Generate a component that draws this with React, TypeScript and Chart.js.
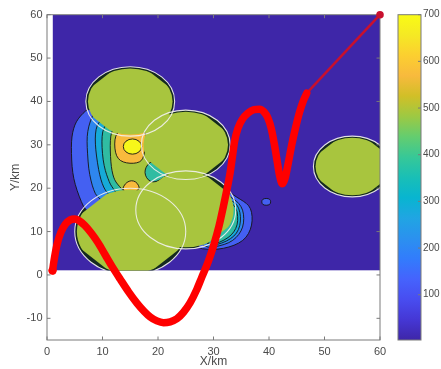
import { useEffect, useRef } from 'react';
import { Chart, registerables } from 'chart.js';

Chart.register(...registerables);

// ---------- axes ----------
const xTickValues = [0, 10, 20, 30, 40, 50, 60];
const yTickValues = [-10, 0, 10, 20, 30, 40, 50, 60];
const xLimits = [0, 60];
const yLimits = [-15, 60];
const colorbarTicks = [100, 200, 300, 400, 500, 600, 700];
const colorbarLimits = [3, 700];

// ---------- field domain ----------
const domainX = [1, 60];
const domainY = [1, 60];

// ---------- threat discs (centre x, centre y, radius, km) ----------
const discX = [15, 25, 15, 25, 55];
const discY = [40, 30, 10, 15, 25];
const discR = [8, 8, 10, 9, 7];

// ---------- flight path ----------
const pathX = [1.0, 1.3, 1.8, 2.5, 3.3, 4.2, 5.0, 5.8, 6.8, 8.0, 9.2, 10.5, 11.8, 13.2, 14.7, 16.2, 17.5, 18.6, 19.8, 21.0, 22.2, 23.4, 24.6, 25.8, 26.9, 27.9, 29.0, 30.0, 31.0, 31.8, 32.5, 33.0, 33.4, 33.8, 34.4, 35.2, 36.2, 37.3, 38.3, 39.1, 39.8, 40.4, 41.0, 41.5, 41.9, 42.4, 42.9, 43.5, 44.1, 44.8, 45.5, 46.2, 46.8];
const pathY = [1.0, 3.6, 7.0, 9.8, 11.7, 12.7, 12.9, 12.5, 11.4, 9.6, 7.4, 4.6, 1.8, -1.0, -3.9, -6.5, -8.4, -9.7, -10.6, -11.0, -10.8, -10.1, -8.6, -6.4, -3.6, -0.5, 2.9, 6.7, 11.3, 15.9, 20.2, 23.6, 27.2, 30.8, 33.8, 35.9, 37.3, 38.1, 38.2, 37.6, 36.2, 33.8, 29.9, 26.0, 23.0, 21.0, 22.3, 26.0, 30.0, 34.0, 37.5, 40.2, 41.9];
const tailX = [46.8, 60];
const tailY = [41.9, 60];
const startX = [1];
const startY = [1];

// ---------- contour bands (km coordinates) ----------
type Pt = [number, number];
const westBand100: Pt[] = [[7.4, 38.3], [6.5, 37.3], [5.6, 36.0], [5.0, 34.6], [4.6, 32.8], [4.4, 30.8], [4.4, 28.0], [4.5, 25.0], [4.8, 22.2], [5.4, 19.5], [6.2, 16.8], [6.9, 15.0], [9, 13], [14, 13], [20, 17], [21.5, 23], [19.5, 27], [20, 34], [16, 36], [10, 38.5]];
const westBand200: Pt[] = [[8.6, 37.6], [7.8, 35.6], [7.3, 33.0], [7.2, 30.8], [7.3, 28.0], [7.5, 24.5], [7.9, 21.8], [8.4, 19.6], [9.0, 18.0], [12, 15], [20, 17], [21.5, 23], [19.5, 27], [20, 34], [16, 36], [11, 38]];
const westBand300: Pt[] = [[9.8, 35.8], [9.0, 34.6], [8.7, 32.5], [8.7, 30.2], [8.9, 27.5], [9.3, 24.2], [9.7, 22.0], [10.2, 20.2], [10.8, 19.0], [13, 16], [20, 17], [21.5, 23], [19.5, 27], [20, 34], [16, 36], [12, 37]];
const westBand400: Pt[] = [[11.0, 35.0], [10.2, 34.0], [9.9, 32.0], [9.9, 29.4], [10.1, 26.5], [10.5, 24.0], [11.0, 22.2], [11.4, 20.9], [12.0, 19.8], [14, 16], [20, 17], [21.5, 23], [19.5, 27], [20, 34], [16, 36]];
const westBand500: Pt[] = [[12.2, 34.0], [11.6, 33.0], [11.4, 31.0], [11.4, 28.6], [11.5, 26.0], [11.7, 24.0], [12.0, 22.5], [12.4, 21.4], [13.0, 20.5], [14, 19], [20, 17], [21.5, 23], [19.5, 27], [20, 34], [16, 36]];
const eastBand100: Pt[] = [[33.0, 19.0], [34.2, 17.9], [35.4, 17.0], [36.4, 16.0], [36.9, 14.5], [37.0, 12.5], [36.7, 10.5], [35.9, 8.6], [34.6, 7.3], [32.8, 6.4], [30.8, 5.9], [28.8, 5.9], [27.2, 6.2], [27, 9], [30, 16], [31, 20]];
const eastBand200: Pt[] = [[33.6, 17.6], [34.6, 16.5], [35.3, 15.0], [35.5, 13.0], [35.3, 11.0], [34.6, 9.3], [33.5, 7.9], [32.0, 7.0], [30.0, 6.4], [28.2, 6.4], [27, 9], [30, 16], [31.5, 19]];
const eastBand300: Pt[] = [[34.0, 16.6], [34.6, 15.3], [34.9, 13.5], [34.8, 11.4], [34.2, 9.6], [33.1, 8.3], [31.5, 7.3], [29.6, 6.7], [28, 8], [30, 16], [32, 18]];
const eastBand400: Pt[] = [[34.1, 15.6], [34.4, 13.5], [34.3, 11.5], [33.7, 9.9], [32.7, 8.6], [31.1, 7.5], [29.6, 7.0], [28, 8], [30, 15], [32.5, 17.5]];
const peak600: Pt[] = [[12.6, 32.8], [12.2, 31.2], [12.2, 29.2], [12.5, 27.4], [13.2, 26.3], [14.3, 25.8], [15.6, 25.7], [16.7, 26.0], [17.3, 26.8], [17.6, 28.5], [18.2, 31], [17.5, 33.5], [15, 33.6], [13.4, 33.4]];
const dome600: Pt[] = [[13.6, 19.5], [13.8, 20.5], [14.4, 21.4], [15.2, 21.8], [16.0, 21.5], [16.5, 20.7], [16.7, 19.7], [15, 18.6]];
const saddle400: Pt[] = [[17.8, 24.8], [17.6, 23.6], [17.9, 22.4], [18.6, 21.5], [19.6, 21.4], [21, 22.4], [22, 23.5], [21, 25], [19.5, 26.2], [18.5, 26.0]];
// ellipse blobs: centre x, centre y, half-width, half-height
const peak700 = [15.4, 29.6, 1.65, 1.75];
const spot100 = [39.5, 16.85, 0.8, 0.78];

// ---------- colours ----------
const parulaStops = ['#3e26a8', '#4537d5', '#484df0', '#4563fd', '#327cfc', '#2b91ef', '#20a5e3', '#08b5d0', '#19bfb6', '#37c897', '#64cd6f', '#9dc943', '#d1bf27', '#f8ba3d', '#fccf30', '#f5e924', '#f9fb15'];
const C_BG = '#3e26a8';
const C100 = '#4460f2';
const C200 = '#2e86ee';
const C300 = '#16aad8';
const C400 = '#30bca2';
const C500 = '#a8c53e';
const C600 = '#f8ba3d';
const C700 = '#f7f71a';
const C_RING = '#13291f';
const C_LINE = '#141414';
const C_AXIS = '#7a7a7a';
const C_TEXT = '#4a4a4a';

const FONT = "'Liberation Sans', Arial, Helvetica, sans-serif";

function tracePoly(ctx: CanvasRenderingContext2D, pts: Pt[], px: (v: number) => number, py: (v: number) => number, smooth: boolean) {
  const P = pts.map(([a, b]) => [px(a), py(b)]);
  const n = P.length;
  ctx.beginPath();
  if (!smooth) {
    P.forEach((p, i) => (i ? ctx.lineTo(p[0], p[1]) : ctx.moveTo(p[0], p[1])));
    ctx.closePath();
    return;
  }
  const mid = (a: number[], b: number[]) => [(a[0] + b[0]) / 2, (a[1] + b[1]) / 2];
  const m0 = mid(P[n - 1], P[0]);
  ctx.moveTo(m0[0], m0[1]);
  for (let i = 0; i < n; i++) {
    const p = P[i];
    const m = mid(p, P[(i + 1) % n]);
    ctx.quadraticCurveTo(p[0], p[1], m[0], m[1]);
  }
  ctx.closePath();
}

const mapPlugin = {
  id: 'contourMap',
  beforeDatasetsDraw(chart: any) {
    const { ctx, chartArea } = chart;
    const xs = chart.scales.x;
    const ys = chart.scales.y;
    const cb = chart.scales.cb;
    const px = (v: number) => xs.getPixelForValue(v);
    const py = (v: number) => ys.getPixelForValue(v);
    const sx = px(1) - px(0);
    const sy = py(0) - py(1);

    ctx.save();
    const l = px(domainX[0]);
    const r = px(domainX[1]);
    const t = py(domainY[1]);
    const b = py(domainY[0]);
    ctx.beginPath();
    ctx.rect(l, t, r - l, b - t);
    ctx.clip();
    ctx.fillStyle = C_BG;
    ctx.fillRect(l, t, r - l, b - t);

    // dark rim of every disc
    discX.forEach((cx, i) => {
      ctx.beginPath();
      ctx.ellipse(px(cx), py(discY[i]), discR[i] * sx, discR[i] * sy, 0, 0, Math.PI * 2);
      ctx.fillStyle = C_RING;
      ctx.fill();
    });

    const fillPoly = (pts: Pt[], color: string) => {
      tracePoly(ctx, pts, px, py, true);
      ctx.fillStyle = color;
      ctx.fill();
      ctx.lineWidth = 0.9;
      ctx.strokeStyle = C_LINE;
      ctx.stroke();
    };
    const fillEllipse = (e: number[], color: string) => {
      ctx.beginPath();
      ctx.ellipse(px(e[0]), py(e[1]), e[2] * sx, e[3] * sy, 0, 0, Math.PI * 2);
      ctx.fillStyle = color;
      ctx.fill();
      ctx.lineWidth = 0.9;
      ctx.strokeStyle = C_LINE;
      ctx.stroke();
    };

    fillPoly(westBand100, C100);
    fillPoly(westBand200, C200);
    fillPoly(westBand300, C300);
    fillPoly(westBand400, C400);
    fillPoly(westBand500, C500);
    fillPoly(eastBand100, C100);
    fillPoly(eastBand200, C200);
    fillPoly(eastBand300, C300);
    fillPoly(eastBand400, C400);
    fillPoly(peak600, C600);
    fillEllipse(peak700, C700);
    fillPoly(dome600, C600);
    fillPoly(saddle400, C400);

    // green plateau of each disc (octagonal cut inside the rim)
    discX.forEach((cx, i) => {
      const cy = discY[i];
      const rr = discR[i];
      ctx.save();
      ctx.beginPath();
      ctx.ellipse(px(cx), py(cy), (rr - 0.38) * sx, (rr - 0.38) * sy, 0, 0, Math.PI * 2);
      ctx.clip();
      const k = 0.29 * rr;
      const oct: Pt[] = [[rr, k], [k, rr], [-k, rr], [-rr, k], [-rr, -k], [-k, -rr], [k, -rr], [rr, -k]].map(
        ([a, c]) => [cx + a, cy + c] as Pt
      );
      tracePoly(ctx, oct, px, py, false);
      ctx.fillStyle = C500;
      ctx.fill();
      ctx.restore();
    });

    // white threat circles
    discX.forEach((cx, i) => {
      ctx.beginPath();
      ctx.ellipse(px(cx), py(discY[i]), discR[i] * sx, discR[i] * sy, 0, 0, Math.PI * 2);
      ctx.lineWidth = 1.1;
      ctx.strokeStyle = 'rgba(240,240,236,0.92)';
      ctx.stroke();
    });

    fillEllipse(spot100, C100);
    ctx.restore();

    // axes box with inward ticks
    ctx.save();
    ctx.strokeStyle = C_AXIS;
    ctx.lineWidth = 1;
    const { left, right, top, bottom } = chartArea;
    ctx.strokeRect(left, top, right - left, bottom - top);
    ctx.beginPath();
    xTickValues.forEach((v) => {
      const x = px(v);
      ctx.moveTo(x, bottom);
      ctx.lineTo(x, bottom - 3.5);
      ctx.moveTo(x, top);
      ctx.lineTo(x, top + 3.5);
    });
    yTickValues.forEach((v) => {
      const y = py(v);
      ctx.moveTo(left, y);
      ctx.lineTo(left + 3.5, y);
      ctx.moveTo(right, y);
      ctx.lineTo(right - 3.5, y);
    });
    ctx.stroke();

    // colour bar
    const cbL = right + 18;
    const cbW = 23;
    const cbT = cb.getPixelForValue(colorbarLimits[1]);
    const cbB = cb.getPixelForValue(colorbarLimits[0]);
    const g = ctx.createLinearGradient(0, cbB, 0, cbT);
    parulaStops.forEach((c, i) => g.addColorStop(i / (parulaStops.length - 1), c));
    ctx.fillStyle = g;
    ctx.fillRect(cbL, cbT, cbW, cbB - cbT);
    ctx.strokeRect(cbL, cbT, cbW, cbB - cbT);
    ctx.beginPath();
    colorbarTicks.forEach((v) => {
      const y = cb.getPixelForValue(v);
      ctx.moveTo(cbL + cbW, y);
      ctx.lineTo(cbL + cbW - 3, y);
    });
    ctx.stroke();
    ctx.restore();
  },
};

export default function App() {
  const ref = useRef<HTMLCanvasElement>(null);
  useEffect(() => {
    const tickFont = { family: FONT, size: 11 };
    const chart = new Chart(ref.current as HTMLCanvasElement, {
      type: 'scatter',
      data: {
        datasets: [
          {
            data: pathX.map((x, i) => ({ x, y: pathY[i] })),
            showLine: true,
            borderColor: '#ff0000',
            borderWidth: 7.5,
            pointRadius: 0,
            cubicInterpolationMode: 'monotone',
            borderCapStyle: 'round',
            borderJoinStyle: 'round',
            clip: false,
            xAxisID: 'x',
            yAxisID: 'y',
          } as any,
          {
            data: tailX.map((x, i) => ({ x, y: tailY[i] })),
            showLine: true,
            borderColor: '#c8102e',
            backgroundColor: '#c8102e',
            borderWidth: 2.5,
            pointRadius: [0, 3.8],
            pointBorderWidth: 0,
            clip: false,
            xAxisID: 'x',
            yAxisID: 'y',
          } as any,
          {
            data: startX.map((x, i) => ({ x, y: startY[i] })),
            showLine: false,
            backgroundColor: '#ff0000',
            pointRadius: 4.2,
            pointBorderWidth: 0,
            clip: false,
            xAxisID: 'x',
            yAxisID: 'y',
          } as any,
        ],
      },
      options: {
        animation: false,
        responsive: false,
        devicePixelRatio: 1,
        layout: { padding: { top: 14.7, left: 0, right: 0, bottom: 0 } },
        plugins: { legend: { display: false }, tooltip: { enabled: false } },
        scales: {
          x: {
            type: 'linear',
            position: 'bottom',
            min: xLimits[0],
            max: xLimits[1],
            afterBuildTicks: (s: any) => {
              s.ticks = xTickValues.map((v) => ({ value: v }));
            },
            afterFit: (s: any) => {
              s.height = 29;
              s.paddingLeft = 0;
              s.paddingRight = 0;
            },
            grid: { display: false, drawTicks: false },
            border: { display: false },
            ticks: { font: tickFont, color: C_TEXT, padding: 5, maxRotation: 0, autoSkip: false },
            title: { display: true, text: 'X/km', font: { family: FONT, size: 12 }, color: C_TEXT, padding: { top: 0, bottom: 0 } },
          },
          y: {
            type: 'linear',
            position: 'left',
            min: yLimits[0],
            max: yLimits[1],
            afterBuildTicks: (s: any) => {
              s.ticks = yTickValues.map((v) => ({ value: v }));
            },
            afterFit: (s: any) => {
              s.width = 47;
              s.paddingTop = 0;
              s.paddingBottom = 0;
            },
            grid: { display: false, drawTicks: false },
            border: { display: false },
            ticks: { font: tickFont, color: C_TEXT, padding: 4.5, autoSkip: false },
            title: { display: true, text: 'Y/km', font: { family: FONT, size: 12 }, color: C_TEXT, padding: { top: 8, bottom: 0 } },
          },
          cb: {
            type: 'linear',
            axis: 'y',
            position: 'right',
            min: colorbarLimits[0],
            max: colorbarLimits[1],
            afterBuildTicks: (s: any) => {
              s.ticks = colorbarTicks.map((v) => ({ value: v }));
            },
            afterFit: (s: any) => {
              s.width = 61;
              s.paddingTop = 0;
              s.paddingBottom = 0;
            },
            grid: { display: false, drawTicks: false },
            border: { display: false },
            ticks: { font: { family: FONT, size: 10 }, color: C_TEXT, padding: 43, autoSkip: false },
          },
        } as any,
      },
      plugins: [mapPlugin],
    } as any);
    return () => chart.destroy();
  }, []);
  return (
    <div style={{ position: 'absolute', left: 0, top: 0, width: 441, height: 369, background: '#fff' }}>
      <canvas ref={ref} width={441} height={369} style={{ width: 441, height: 369, display: 'block' }} />
    </div>
  );
}
